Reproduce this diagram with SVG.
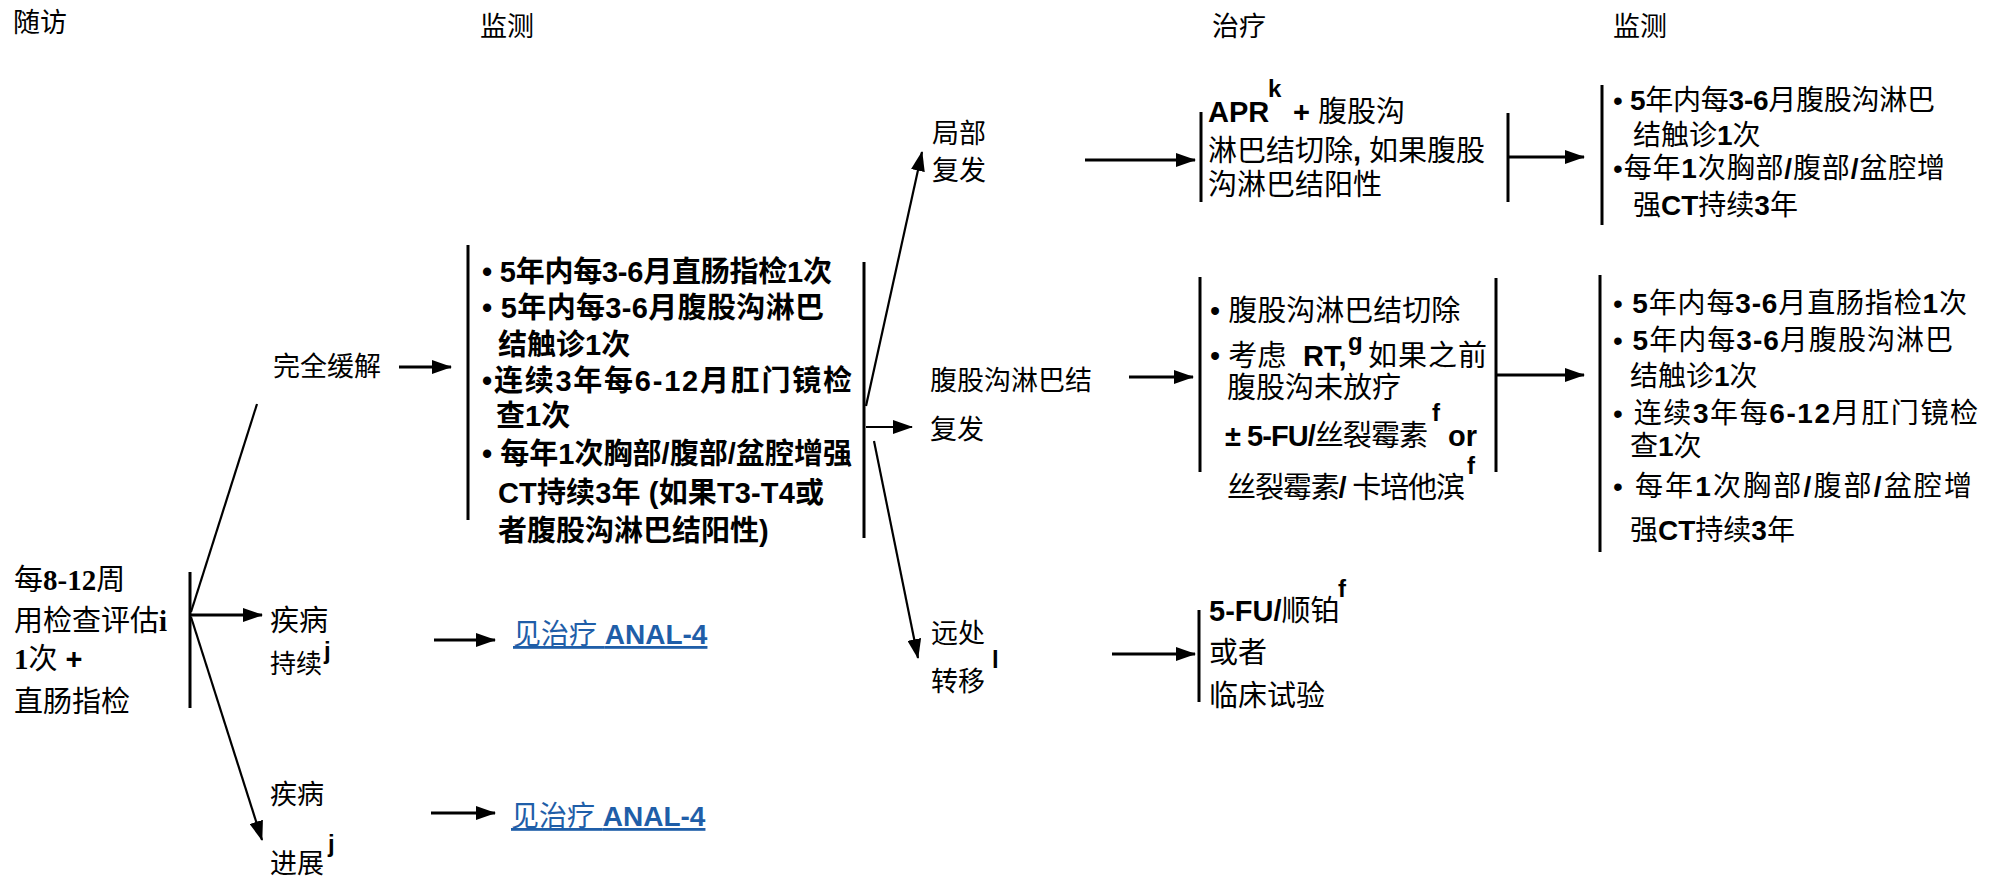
<svg xmlns="http://www.w3.org/2000/svg" width="1997" height="879" viewBox="0 0 1997 879">
<style>
text { font-family: "Liberation Sans", "Noto Sans CJK SC", sans-serif; fill: #000; }
.h { font-size: 27px; }
.l { font-size: 27px; }
.m { font-size: 29px; font-weight: bold; }
.r { font-size: 28px; }
.t { font-size: 29px; }
.b { font-weight: bold; }
.sup { font-size: 24px; font-weight: bold; }
.sf { font-family: "Liberation Serif", "Noto Sans CJK SC", serif; font-weight: bold; }
.lk { font-size: 28px; fill: #1f5ea8; text-decoration: underline; }
.bar { stroke: #000; stroke-width: 3; }
.ln { stroke: #000; stroke-width: 2.2; fill: none; }
.ar { stroke: #000; stroke-width: 3; fill: none; }
</style>
<defs>
<marker id="ah" markerWidth="20" markerHeight="14" refX="19" refY="7" orient="auto" markerUnits="userSpaceOnUse">
<path d="M0,0 L20,7 L0,14 z" fill="#000"/>
</marker>
</defs>
<rect width="1997" height="879" fill="#fff"/>

<g id="headers">
<text class="h" x="13" y="32">随访</text>
<text class="h" x="480" y="36">监测</text>
<text class="h" x="1212" y="36">治疗</text>
<text class="h" x="1613" y="36">监测</text>
</g>

<g id="node-followup">
<text style="font-size:29px" x="14" y="590">每<tspan class="sf">8-12</tspan>周</text>
<text style="font-size:29px" x="14" y="631">用检查评估<tspan class="sf">i</tspan></text>
<text style="font-size:29px" x="14" y="669"><tspan class="sf">1</tspan>次 <tspan class="b">+</tspan></text>
<text style="font-size:29px" x="14" y="712">直肠指检</text>
<line class="bar" x1="190" y1="572" x2="190" y2="708"/>
</g>

<g id="node-cr">
<text class="l" x="273" y="376">完全缓解</text>
</g>

<g id="node-persist">
<text style="font-size:29px" x="270" y="631">疾病</text>
<text style="font-size:26px" x="270" y="673">持续</text>
<text class="sup" x="324" y="659">j</text>
</g>

<g id="node-progress">
<text class="l" x="270" y="804">疾病</text>
<text class="l" x="270" y="873">进展</text>
<text class="sup" x="328" y="852">j</text>
</g>

<g id="node-link1">
<text class="lk" x="513" y="644">见治疗 <tspan class="b">ANAL-4</tspan></text>
</g>
<g id="node-link2">
<text class="lk" x="511" y="826">见治疗 <tspan class="b">ANAL-4</tspan></text>
</g>

<g id="node-surveillance1">
<line class="bar" x1="468" y1="245" x2="468" y2="520"/>
<line class="bar" x1="864" y1="262" x2="864" y2="538"/>
<text class="m" x="482" y="282" textLength="350">• 5年内每3-6月直肠指检1次</text>
<text class="m" x="482" y="318" textLength="342">• 5年内每3-6月腹股沟淋巴</text>
<text class="m" x="498" y="355">结触诊1次</text>
<text class="m" x="482" y="391" textLength="370">•连续3年每6-12月肛门镜检</text>
<text class="m" x="496" y="426">查1次</text>
<text class="m" x="482" y="464" textLength="370">• 每年1次胸部/腹部/盆腔增强</text>
<text class="m" x="498" y="503" textLength="326">CT持续3年 (如果T3-T4或</text>
<text class="m" x="498" y="541">者腹股沟淋巴结阳性)</text>
</g>

<g id="node-local">
<text class="l" x="932" y="143">局部</text>
<text class="l" x="932" y="180">复发</text>
</g>

<g id="node-inguinal">
<text class="l" x="930" y="390">腹股沟淋巴结</text>
<text class="l" x="930" y="439">复发</text>
</g>

<g id="node-distant">
<text class="l" x="931" y="643">远处</text>
<text class="l" x="931" y="691">转移</text>
<text class="sup" x="992" y="668">l</text>
</g>

<g id="node-apr">
<line class="bar" x1="1201" y1="112" x2="1201" y2="202"/>
<line class="bar" x1="1508" y1="113" x2="1508" y2="202"/>
<text class="t b" x="1208" y="122">APR</text>
<text class="sup" x="1268" y="97">k</text>
<text class="t" x="1293" y="122"><tspan class="b">+</tspan> 腹股沟</text>
<text class="t" x="1208" y="161" textLength="277">淋巴结切除<tspan class="b">,</tspan> 如果腹股</text>
<text class="t" x="1208" y="195">沟淋巴结阳性</text>
</g>

<g id="node-inguinal-tx">
<line class="bar" x1="1200" y1="277" x2="1200" y2="472"/>
<line class="bar" x1="1496" y1="278" x2="1496" y2="472"/>
<text class="t" x="1210" y="321">• 腹股沟淋巴结切除</text>
<text class="t" x="1210" y="366">• 考虑</text>
<text class="t b" x="1303" y="366">RT,</text>
<text class="sup" x="1348" y="350">g</text>
<text class="t" x="1368" y="366" textLength="119">如果之前</text>
<text class="t" x="1227" y="398">腹股沟未放疗</text>
<text class="t" x="1225" y="446" textLength="203"><tspan class="b">± 5-FU/</tspan>丝裂霉素</text>
<text class="sup" x="1432" y="421">f</text>
<text class="t b" x="1448" y="446">or</text>
<text class="t" x="1227" y="498" textLength="238">丝裂霉素<tspan class="b">/</tspan> 卡培他滨</text>
<text class="sup" x="1467" y="474">f</text>
</g>

<g id="node-systemic">
<line class="bar" x1="1199" y1="610" x2="1199" y2="702"/>
<text class="t" x="1209" y="621"><tspan class="b">5-FU/</tspan>顺铂</text>
<text class="sup" x="1338" y="597">f</text>
<text class="t" x="1209" y="663">或者</text>
<text class="t" x="1209" y="706">临床试验</text>
</g>

<g id="node-surveillance2">
<line class="bar" x1="1602" y1="85" x2="1602" y2="225"/>
<text class="r" x="1613" y="110" textLength="322">• <tspan class="b">5</tspan>年内每<tspan class="b">3-6</tspan>月腹股沟淋巴</text>
<text class="r" x="1633" y="145">结触诊<tspan class="b">1</tspan>次</text>
<text class="r" x="1613" y="178" textLength="332">•每年<tspan class="b">1</tspan>次胸部<tspan class="b">/</tspan>腹部<tspan class="b">/</tspan>盆腔增</text>
<text class="r" x="1633" y="215">强<tspan class="b">CT</tspan>持续<tspan class="b">3</tspan>年</text>
</g>

<g id="node-surveillance3">
<line class="bar" x1="1600" y1="275" x2="1600" y2="552"/>
<text class="r" x="1613" y="313" textLength="354">• <tspan class="b">5</tspan>年内每<tspan class="b">3-6</tspan>月直肠指检<tspan class="b">1</tspan>次</text>
<text class="r" x="1613" y="350" textLength="340">• <tspan class="b">5</tspan>年内每<tspan class="b">3-6</tspan>月腹股沟淋巴</text>
<text class="r" x="1630" y="386">结触诊<tspan class="b">1</tspan>次</text>
<text class="r" x="1613" y="423" textLength="365">• 连续<tspan class="b">3</tspan>年每<tspan class="b">6-12</tspan>月肛门镜检</text>
<text class="r" x="1630" y="456">查<tspan class="b">1</tspan>次</text>
<text class="r" x="1613" y="496" textLength="359">• 每年<tspan class="b">1</tspan>次胸部<tspan class="b">/</tspan>腹部<tspan class="b">/</tspan>盆腔增</text>
<text class="r" x="1630" y="540">强<tspan class="b">CT</tspan>持续<tspan class="b">3</tspan>年</text>
</g>

<g id="connectors">
<line class="ln" x1="191" y1="612" x2="257" y2="404"/>
<line class="ar" x1="191" y1="615" x2="262" y2="615" marker-end="url(#ah)"/>
<line class="ln" x1="191" y1="617" x2="262" y2="840" marker-end="url(#ah)"/>
<line class="ar" x1="399" y1="367" x2="451" y2="367" marker-end="url(#ah)"/>
<line class="ar" x1="434" y1="640" x2="495" y2="640" marker-end="url(#ah)"/>
<line class="ar" x1="431" y1="813" x2="495" y2="813" marker-end="url(#ah)"/>
<line class="ln" x1="866" y1="406" x2="922" y2="152" marker-end="url(#ah)"/>
<line class="ln" x1="866" y1="427" x2="912" y2="427" marker-end="url(#ah)"/>
<line class="ln" x1="874" y1="441" x2="918" y2="658" marker-end="url(#ah)"/>
<line class="ar" x1="1085" y1="160" x2="1195" y2="160" marker-end="url(#ah)"/>
<line class="ar" x1="1129" y1="377" x2="1193" y2="377" marker-end="url(#ah)"/>
<line class="ar" x1="1112" y1="654" x2="1195" y2="654" marker-end="url(#ah)"/>
<line class="ar" x1="1508" y1="157" x2="1584" y2="157" marker-end="url(#ah)"/>
<line class="ar" x1="1496" y1="375" x2="1584" y2="375" marker-end="url(#ah)"/>
</g>
</svg>
